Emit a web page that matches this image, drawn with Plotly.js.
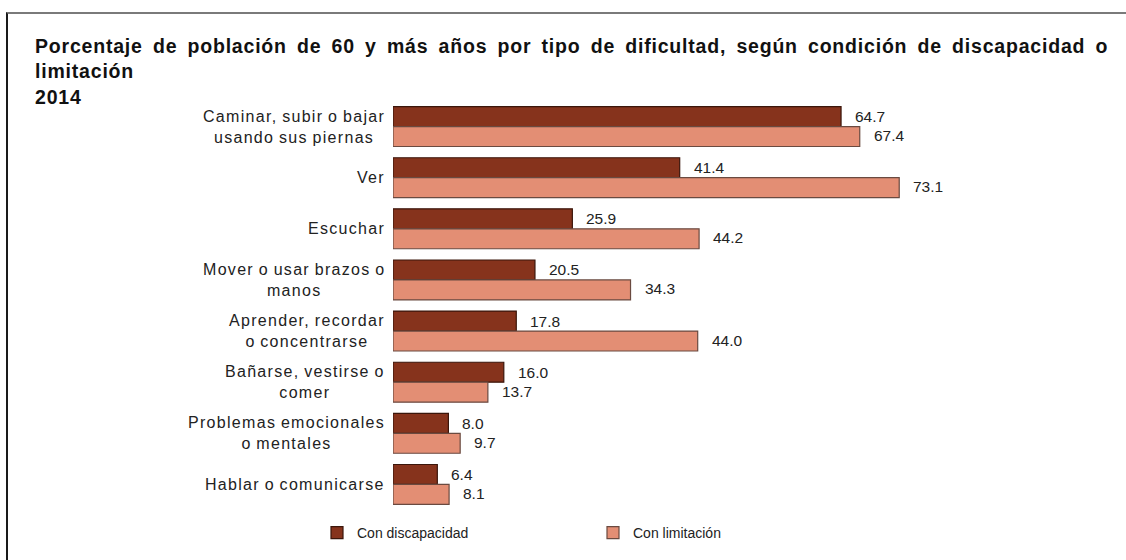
<!DOCTYPE html>
<html>
<head>
<meta charset="utf-8">
<script src="https://cdn.plot.ly/plotly-3.0.1.min.js"></script>
<style>
html,body{margin:0;padding:0;background:#fff;}
#wrap{position:relative;width:1126px;height:560px;overflow:hidden;}
#chart{width:1126px;height:560px;}
#frame{position:absolute;left:6px;top:12px;width:1130px;height:560px;border-left:2px solid #1a1a1a;border-top:2px solid #7a7a7a;pointer-events:none;}
</style>
</head>
<body>
<div id="wrap"><div id="chart"></div><div id="frame"></div></div>
<script>
const categories = [
  "Caminar, subir o bajar<br>usando sus piernas",
  "Ver",
  "Escuchar",
  "Mover o usar brazos o<br>manos",
  "Aprender, recordar<br>o concentrarse",
  "Bañarse, vestirse o<br>comer",
  "Problemas emocionales<br>o mentales",
  "Hablar o comunicarse"
];
const seriesNames = ["Con discapacidad", "Con limitación"];
const conDiscapacidad = [64.7, 41.4, 25.9, 20.5, 17.8, 16.0, 8.0, 6.4];
const conLimitacion = [67.4, 73.1, 44.2, 34.3, 44.0, 13.7, 9.7, 8.1];
const titleLines = [
  "Porcentaje de población de 60 y más años por tipo de dificultad, según condición de discapacidad o",
  "limitación",
  "2014"
];

const fontFam = "Liberation Sans, Arial, sans-serif";

function spaced(text, ls, ws) {
  return text.split("<br>").map(function (line) {
    return "<span style=\"letter-spacing:" + ls + "px;word-spacing:" + ws + "px\">" + line + "</span>";
  }).join("<br>");
}

const traces = [
  {
    type: "bar", orientation: "h", name: seriesNames[0],
    y: categories, x: conDiscapacidad,
    marker: {color: "#86331c", line: {color: "#3b160b", width: 1.2}},
    hoverinfo: "x"
  },
  {
    type: "bar", orientation: "h", name: seriesNames[1],
    y: categories, x: conLimitacion,
    marker: {color: "#e38e74", line: {color: "#6a4a40", width: 1.2}},
    hoverinfo: "x"
  }
];

const annotations = [];
categories.forEach(function (c, i) {
  annotations.push({
    xref: "paper", x: 0, xanchor: "right", xshift: -6,
    yref: "y", y: c, yanchor: "middle",
    text: spaced(c, 1.3, -1), showarrow: false, align: "center",
    font: {family: fontFam, size: 16, color: "#222"}
  });
  annotations.push({
    xref: "x", x: conDiscapacidad[i], xanchor: "left", xshift: 12,
    yref: "y", y: c, yanchor: "middle", yshift: 10,
    text: conDiscapacidad[i].toFixed(1), showarrow: false,
    font: {family: fontFam, size: 15.5, color: "#222"}
  });
  annotations.push({
    xref: "x", x: conLimitacion[i], xanchor: "left", xshift: 12,
    yref: "y", y: c, yanchor: "middle", yshift: -9,
    text: conLimitacion[i].toFixed(1), showarrow: false,
    font: {family: fontFam, size: 15.5, color: "#222"}
  });
});

const layout = {
  width: 1126, height: 560,
  paper_bgcolor: "#fff", plot_bgcolor: "#fff",
  margin: {l: 393, r: 179, t: 101, b: 50},
  barmode: "group", bargap: 0.22, bargroupgap: 0,
  title: {
    text: spaced(titleLines.join("<br>"), 0.8, 4), xref: "container", x: 35/1126, xanchor: "left",
    yref: "container", y: 1 - 53/560, yanchor: "top",
    font: {family: fontFam, size: 19.5, color: "#111", weight: "bold"}
  },
  xaxis: {range: [0, 80], visible: false, fixedrange: true},
  yaxis: {type: "category", autorange: "reversed", showticklabels: false,
          showgrid: false, zeroline: false, showline: false, ticks: "", fixedrange: true},
  showlegend: true,
  legend: {
    orientation: "h", x: (317 - 393) / 554, xref: "paper", xanchor: "left",
    y: 1 - 517/560, yref: "container", yanchor: "top",
    entrywidth: 231, entrywidthmode: "pixels",
    font: {family: fontFam, size: 14, color: "#222"},
    itemwidth: 30
  },
  annotations: annotations
};

Plotly.newPlot("chart", traces, layout, {displayModeBar: false, staticPlot: true});
</script>
</body>
</html>
